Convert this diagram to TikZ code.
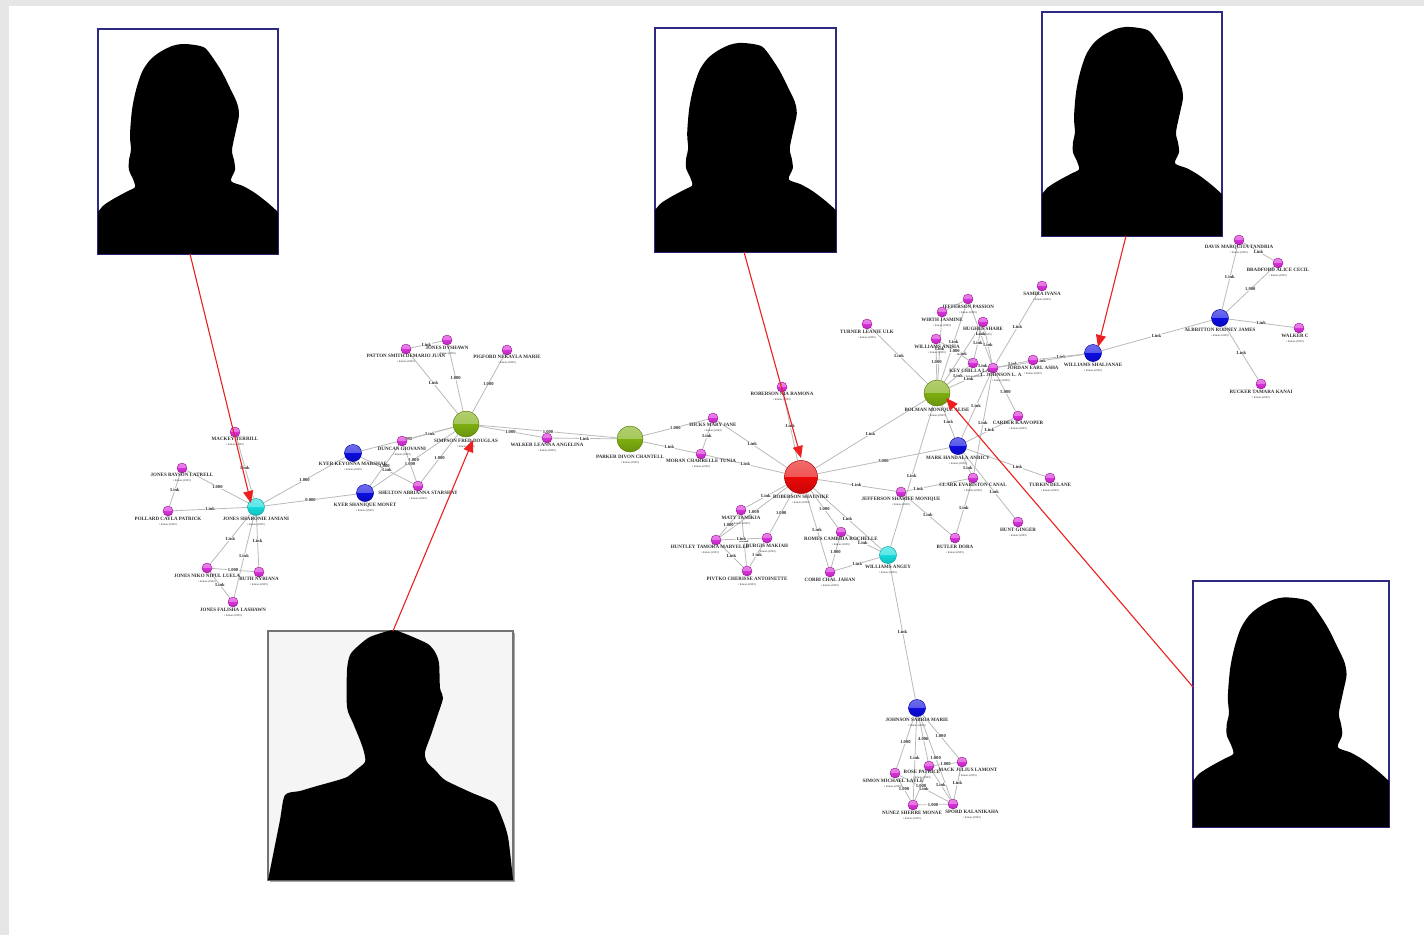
\documentclass[tikz,border=0pt]{standalone}
\usepackage{fontspec}
\setmainfont{Liberation Serif}
\usetikzlibrary{arrows.meta,shadows}
\definecolor{bgray}{HTML}{E6E6E6}
\definecolor{frameblue}{HTML}{2E2A82}
\definecolor{lnkgray}{HTML}{BABABA}
\definecolor{cgreen}{HTML}{7DAE10}
\definecolor{cblue}{HTML}{0C0CE0}
\definecolor{ccyan}{HTML}{14DCDC}
\definecolor{cred}{HTML}{EA0808}
\definecolor{cmag}{HTML}{D830D8}
\definecolor{txt}{HTML}{303030}
\definecolor{arrowred}{HTML}{EC2020}
\pgfdeclarelayer{back}
\pgfdeclarelayer{links}
\pgfsetlayers{back,links,main}
\tikzset{
  sphere/.style 2 args={circle,inner sep=0pt,minimum size=#1,fill=#2,draw=#2!70!black,line width=.4pt,
    path picture={
      \shade[top color=#2!60!white,bottom color=#2!78!white] (path picture bounding box.north west) rectangle (path picture bounding box.east);
      \shade[top color=#2,bottom color=#2!85!black] (path picture bounding box.west) rectangle (path picture bounding box.south east);
    }},
  small/.style={sphere={10pt}{cmag}},
  blueb/.style={sphere={17pt}{cblue}},
  cyanb/.style={sphere={17pt}{ccyan}},
  greenb/.style={sphere={26pt}{cgreen}},
  redb/.style={sphere={33pt}{cred}},
  nm/.style={anchor=north,inner sep=0pt,align=center,text=txt,font=\fontsize{5}{5.8}\selectfont\bfseries},
  lnk/.style={draw=lnkgray,line width=.8pt},
  lk/.style={fill=white,inner sep=.4pt,text=txt,font=\fontsize{4.6}{5}\selectfont\bfseries},
  photo/.style={draw=frameblue,line width=1.5pt,fill=white,inner sep=0pt,rectangle},
  malephoto/.style={draw=black!55,line width=1.5pt,fill=black!4,inner sep=0pt,rectangle,
    drop shadow={shadow xshift=2pt,shadow yshift=-2pt,opacity=.35,fill=black}},
  pointer/.style={draw=arrowred,line width=1.1pt,-{Triangle[length=12pt,width=10pt,fill=arrowred]}},
}
\newcommand\person[7]{\node[#4] (#1) at (#2,#3) {};
  \node[nm] (#1-l) at (#5,#6-2) {#7\\[-.4pt]{\fontsize{2.8}{3}\selectfont\mdseries\textcolor{blue!70!black}{\textbullet}\,Inmate (2009)}};}
\newcommand\edge[4][.5]{\begin{pgfonlayer}{links}\draw[lnk] (#2) -- node[lk,pos=#1] {#4} (#3);\end{pgfonlayer}}
% female silhouette, in the coordinates of the first frame (98,29)-(278,254)
\newcommand\female[4]{\begin{scope}[shift={(#1,#2)},xscale=#3/180,yscale=#4/225,shift={(-98,-29)}]
  \fill[black] (98,254) -- plot[smooth,tension=.5] coordinates {(98,212) (104,205) (115,198) (128,191) (135,187) (133,179) (129,170) (129,160) (131,150) (130,135) (132,110) (136,90) (142,72) (150,60) (160,52) (172,46) (182,44) (195,45) (205,48) (213,58) (222,72) (230,88) (237,103) (239,115) (236,130) (232,150) (234,160) (235,170) (231,181) (243,186) (255,193) (268,203) (278,212)} -- (278,254) -- cycle;
\end{scope}}
\begin{document}
\begin{tikzpicture}[x=1pt,y=-1pt]
\useasboundingbox (0,0) rectangle (1424,935);
\begin{pgfonlayer}{back}
\fill[bgray] (0,0) rectangle (1424,935);
\fill[white] (9,6) rectangle (1424,935);
\end{pgfonlayer}

% people ---------------------------------------------------------------
\person{jonesh}{256}{507}{cyanb}{256}{519}{JONES SHARONIE JANIANI}
\person{mackey}{235}{432}{small}{235}{439}{MACKEY TERRILL}
\person{bones}{182}{468}{small}{182}{475}{JONES BAYSON LATRELL}
\person{pollard}{168}{511}{small}{168}{519}{POLLARD CAYLA PATRICK}
\person{jonesn}{207}{568}{small}{207}{576}{JONES NIKO NIPUL LUELA}
\person{ruth}{259}{572}{small}{259}{579}{RUTH NYRIANA}
\person{jamesf}{233}{602}{small}{233}{610}{JONES FALISHA LASHAWN}
\person{kyerk}{353}{453}{blueb}{353}{464}{KYER KEYONNA MARSHAE}
\person{kyerm}{365}{493}{blueb}{365}{505}{KYER SHANIQUE MONET}
\person{duncan}{402}{441}{small}{402}{449}{DUNCAN GIOVANNI}
\person{shelton}{418}{486}{small}{418}{493}{SHELTON ABRIANNA STARSHAY}
\person{simpson}{466}{424}{greenb}{466}{441}{SIMPSON FRED DOUGLAS}
\person{patton}{406}{349}{small}{406}{356}{PATTON SMITH DEMARIO JUAN}
\person{jonesd}{447}{340}{small}{447}{348}{JONES DYSHAWN}
\person{pigford}{507}{350}{small}{507}{357}{PIGFORD NEKAYLA MARIE}
\person{walker}{547}{438}{small}{547}{445}{WALKER LEANNA ANGELINA}
\person{parker}{630}{439}{greenb}{630}{457}{PARKER DIVON CHANTELL}
\person{hicks}{713}{418}{small}{713}{425}{HICKS MARY JANE}
\person{moran}{701}{454}{small}{701}{461}{MORAN CHARRELLE TUNIA}
\person{robnia}{782}{387}{small}{782}{394}{ROBERSON NIA RAMONA}
\person{roberson}{801}{477}{redb}{801}{497}{ROBERSON SHAUNIKE}
\person{maty}{741}{510}{small}{741}{518}{MATY TAMIKIA}
\person{huntley}{716}{540}{small}{710}{547}{HUNTLEY TAMORA MARVELLE}
\person{burgis}{767}{538}{small}{767}{546}{BURGIS MAKIAH}
\person{pivtko}{747}{571}{small}{747}{579}{PIVTKO CHERISSE ANTOINETTE}
\person{romes}{841}{532}{small}{841}{539}{ROMES CAMBRIA ROCHELLE}
\person{corbi}{830}{572}{small}{830}{580}{CORBI CHAL JAHAN}
\person{willang}{888}{555}{cyanb}{888}{567}{WILLIAMS ANGEY}
\person{jeffsh}{901}{492}{small}{901}{499}{JEFFERSON SHARIFE MONIQUE}
\person{clark}{973}{478}{small}{973}{485}{CLARK EVARISTON CANAL}
\person{butler}{955}{538}{small}{955}{547}{BUTLER DORA}
\person{hunt}{1018}{522}{small}{1018}{530}{HUNT GINGER}
\person{turkin}{1050}{478}{small}{1050}{485}{TURKIN DELANE}
\person{mark}{958}{446}{blueb}{958}{458}{MARK HANDALA ANRICY}
\person{bolman}{937}{393}{greenb}{937}{410}{BOLMAN MONIQUE ALISE}
\person{turner}{867}{324}{small}{867}{332}{TURNER LEANIE ULK}
\person{jeffpa}{968}{299}{small}{968}{307}{JEFFERSON PASSION}
\person{wirth}{942}{312}{small}{942}{320}{WIRTH JASMINE}
\person{hughes}{983}{322}{small}{983}{329}{HUGHES SHARE}
\person{willan}{936}{339}{small}{937}{347}{WILLIAMS ANISIA}
\person{keychi}{973}{363}{small}{973}{371}{KEY CHILLA LAND}
\person{johnl}{993}{368}{small}{1001}{375}{L. JOHNSON L. A}
\person{jordan}{1033}{360}{small}{1033}{368}{JORDAN EARL ASHA}
\person{samira}{1042}{286}{small}{1042}{294}{SAMIRA IVANA}
\person{carder}{1018}{416}{small}{1018}{423}{CARDER KAAVOPER}
\person{willsh}{1093}{353}{blueb}{1093}{365}{WILLIAMS SHALJANAE}
\person{albritton}{1220}{318}{blueb}{1220}{330}{ALBRITTON RODNEY JAMES}
\person{davis}{1239}{240}{small}{1239}{247}{DAVIS MARQUITA TANDRIA}
\person{bradford}{1278}{263}{small}{1278}{270}{BRADFORD ALICE CECIL}
\person{walkerc}{1299}{328}{small}{1295}{336}{WALKER C}
\person{rucker}{1261}{384}{small}{1261}{392}{RUCKER TAMARA KANAI}
\person{johnson}{917}{708}{blueb}{917}{720}{JOHNSON SABRIA MARIE}
\person{rose}{929}{766}{small}{922}{772}{ROSE PATRICE}
\person{mack}{962}{762}{small}{968}{770}{MACK JULIUS LAMONT}
\person{simon}{895}{773}{small}{893}{781}{SIMON MICHAEL LAYLE}
\person{nunez}{913}{805}{small}{912}{813}{NUNEZ SHERRE MONAE}
\person{spord}{953}{804}{small}{972}{812}{SPORD KALANIKAHA}

% links ---------------------------------------------------------------
\edge{jonesh}{mackey}{Link}
\edge{jonesh}{bones}{1.000}
\edge{bones}{pollard}{Link}
\edge{jonesh}{pollard}{Link}
\edge{jonesh}{jonesn}{Link}
\edge{jonesh}{ruth}{Link}
\edge{jonesh}{jamesf}{Link}
\edge{jonesn}{ruth}{1.000}
\edge{jonesn}{jamesf}{Link}
\edge{jonesh}{kyerk}{1.000}
\edge{jonesh}{kyerm}{0.000}
\edge{kyerk}{simpson}{1.000}
\edge{kyerm}{simpson}{1.000}
\edge{duncan}{simpson}{Link}
\edge{shelton}{simpson}{1.000}
\edge{shelton}{duncan}{1.000}
\edge{kyerm}{duncan}{1.000}
\edge{shelton}{kyerk}{Link}
\edge{simpson}{patton}{Link}
\edge{simpson}{jonesd}{1.000}
\edge{simpson}{pigford}{1.000}
\edge{patton}{jonesd}{Link}
\edge{simpson}{walker}{1.000}
\edge{simpson}{parker}{1.000}
\edge{walker}{parker}{Link}
\edge{parker}{hicks}{1.000}
\edge{parker}{moran}{Link}
\edge{hicks}{moran}{Link}
\edge{hicks}{roberson}{Link}
\edge{moran}{roberson}{Link}
\edge{robnia}{roberson}{Link}
\edge{roberson}{bolman}{Link}
\edge{roberson}{mark}{3.000}
\edge{roberson}{jeffsh}{Link}
\edge{roberson}{maty}{Link}
\edge{roberson}{huntley}{1.000}
\edge{roberson}{burgis}{1.000}
\edge{roberson}{corbi}{Link}
\edge{roberson}{romes}{1.000}
\edge{roberson}{willang}{Link}
\edge{maty}{pivtko}{Link}
\edge{huntley}{burgis}{Link}
\edge{huntley}{pivtko}{Link}
\edge{burgis}{pivtko}{1 ink}
\edge{maty}{huntley}{1.000}
\edge{romes}{corbi}{1.000}
\edge{corbi}{willang}{Link}
\edge{romes}{willang}{Link}
\edge{willang}{johnson}{Link}
\edge{willang}{bolman}{Link}
\edge[.2]{jeffsh}{clark}{Link}
\edge{jeffsh}{butler}{Link}
\edge{clark}{butler}{Link}
\edge[.3]{clark}{mark}{Link}
\edge[.6]{mark}{hunt}{Link}
\edge[.65]{mark}{turkin}{Link}
\edge{mark}{bolman}{Link}
\edge{mark}{johnl}{Link}
\edge{mark}{carder}{Link}
\edge{clark}{johnl}{Link}
\edge{bolman}{turner}{Link}
\edge{bolman}{jeffpa}{Link}
\edge{bolman}{wirth}{Link}
\edge{bolman}{hughes}{Link}
\edge{bolman}{willan}{1.000}
\edge{bolman}{keychi}{Link}
\edge{bolman}{johnl}{Link}
\edge{wirth}{jeffpa}{}
\edge{jeffpa}{johnl}{Link}
\edge{willan}{keychi}{1.000}
\edge{hughes}{keychi}{Link}
\edge{hughes}{johnl}{Link}
\edge{keychi}{johnl}{Link}
\edge{samira}{johnl}{Link}
\edge{johnl}{carder}{5.000}
\edge{johnl}{jordan}{Link}
\edge{jordan}{willsh}{Link}
\edge{johnl}{willsh}{Link}
\edge{willsh}{albritton}{Link}
\edge{albritton}{davis}{Link}
\edge{albritton}{bradford}{1.000}
\edge{albritton}{walkerc}{Link}
\edge{albritton}{rucker}{Link}
\edge{davis}{bradford}{Link}
\edge{johnson}{rose}{4.000}
\edge{johnson}{mack}{1.000}
\edge{johnson}{simon}{1.000}
\edge{johnson}{nunez}{Link}
\edge{johnson}{spord}{1.000}
\edge{rose}{spord}{Link}
\edge{rose}{mack}{1.000}
\edge{simon}{nunez}{1.000}
\edge{simon}{spord}{Link}
\edge{nunez}{spord}{1.000}
\edge{rose}{nunez}{1.000}
\edge{mack}{spord}{Link}

% photos --------------------------------------------------------------
\node[photo,minimum width=180pt,minimum height=225pt] (ph1) at (188,141.5) {};
\female{98}{29}{180}{225}
\node[photo,minimum width=181pt,minimum height=224pt] (ph2) at (745.5,140) {};
\female{655}{28}{181}{224}
\node[photo,minimum width=180pt,minimum height=224pt] (ph3) at (1132,124) {};
\female{1042}{12}{180}{224}
\node[photo,minimum width=196pt,minimum height=246pt] (ph4) at (1291,704) {};
\female{1193}{581}{196}{246}
\node[malephoto,minimum width=245pt,minimum height=249pt] (ph5) at (390.5,755.5) {};
\fill[black] (268,880) -- plot[smooth,tension=.45] coordinates {(268,880) (274,850) (280,820) (285,795) (300,791) (317,786) (335,781) (347,777) (356,770) (365,762) (364,752) (360,740) (353,723) (347,707) (347,670) (350,655) (357,647) (368,638) (378,634) (393,630) (403,633) (413,637) (428,644) (435,652) (439,663) (440,688) (443,698) (437,717) (431,735) (425,752) (427,762) (436,771) (445,780) (470,792) (493,802) (500,813) (508,837) (513,880)} -- cycle;

% pointers ------------------------------------------------------------
\coordinate (f1) at (190,254);
\coordinate (t1) at (251,503);
\coordinate (f2) at (393,631);
\coordinate (t2) at (473,440);
\coordinate (f3) at (744,252);
\coordinate (t3) at (801,458);
\coordinate (f4) at (1126,236);
\coordinate (t4) at (1098,347);
\coordinate (f5) at (1193,687);
\coordinate (t5) at (946,398);
\draw[pointer] (f1) -- (t1);
\draw[pointer] (f2) -- (t2);
\draw[pointer] (f3) -- (t3);
\draw[pointer] (f4) -- (t4);
\draw[pointer] (f5) -- (t5);
\end{tikzpicture}
\end{document}
